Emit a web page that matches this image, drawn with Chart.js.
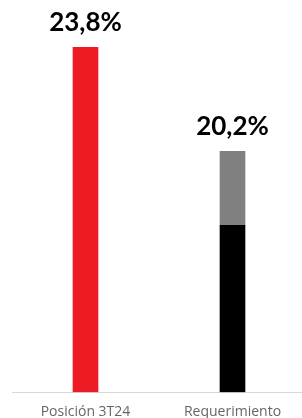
<!DOCTYPE html>
<html><head><meta charset="utf-8">
<script src="https://cdn.jsdelivr.net/npm/chart.js@4/dist/chart.umd.min.js"></script>
<style>html,body{margin:0;padding:0;overflow:hidden;background:#fff;width:302px;height:418px}#w{position:relative;width:308px;height:418px}</style>
</head><body><div id="w"><canvas id="c"></canvas></div>
<script>
const categories = ["Posición 3T24", "Requerimiento"];
const positionValues = [23.8, null];
const requirementBase = [null, 11.5];
const requirementTop = [null, 5.1];
const topLabels = ["23,8%", "20,2%"];

const topLabelPlugin = {
  id: 'topLabels',
  afterDatasetsDraw(chart) {
    const ctx = chart.ctx;
    ctx.save();
    ctx.font = 'bold 26px Lato, "Open Sans", sans-serif';
    ctx.fillStyle = '#000';
    ctx.textAlign = 'center';
    ctx.textBaseline = 'alphabetic';
    categories.forEach((c, i) => {
      let topY = Infinity, x = 0;
      chart.data.datasets.forEach((ds, di) => {
        const el = chart.getDatasetMeta(di).data[i];
        if (el && ds.data[i] != null) { topY = Math.min(topY, el.y); x = el.x; }
      });
      ctx.fillText(topLabels[i], x, topY - 16);
    });
    ctx.restore();
  }
};

new Chart(document.getElementById('c'), {
  type: 'bar',
  data: {
    labels: categories,
    datasets: [
      { data: positionValues, backgroundColor: '#ed1c24', barThickness: 25, stack: 's' },
      { data: requirementBase, backgroundColor: '#000000', barThickness: 25, stack: 's' },
      { data: requirementTop, backgroundColor: '#808080', barThickness: 25, stack: 's' }
    ]
  },
  options: {
    responsive: true,
    maintainAspectRatio: false,
    animation: false,
    layout: { padding: { top: 47, left: 12, right: 2, bottom: -13 } },
    plugins: { legend: { display: false }, tooltip: { enabled: false } },
    scales: {
      x: {
        stacked: true,
        grid: { display: false, drawTicks: false, tickLength: 0 },
        border: { display: true, color: '#d9d9d9', width: 1 },
        ticks: { color: '#666666', font: { family: '"Open Sans", sans-serif', size: 14 }, padding: 11 }
      },
      y: {
        stacked: true,
        display: false,
        min: 0,
        max: 23.8
      }
    }
  },
  plugins: [topLabelPlugin]
});
</script>
</body></html>
